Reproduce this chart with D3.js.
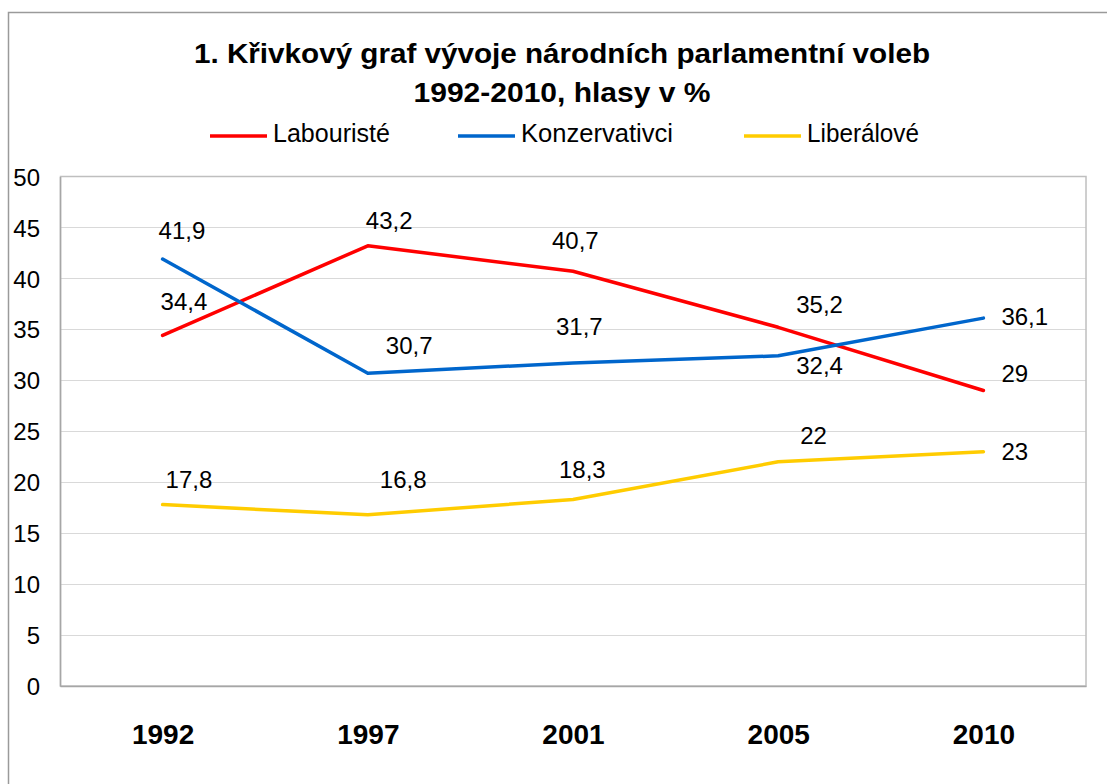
<!DOCTYPE html>
<html>
<head>
<meta charset="utf-8">
<script src="https://cdn.jsdelivr.net/npm/d3@7"></script>
<style>
  html, body { margin: 0; padding: 0; background: #fff; }
  svg { display: block; font-family: "Liberation Sans", Arial, sans-serif; }
</style>
</head>
<body>
<svg id="chart" width="1107" height="784"></svg>
<script>
// ---- data ----
const years = ["1992", "1997", "2001", "2005", "2010"];
const seriesNames = ["Labouristé", "Konzervativci", "Liberálové"];
const labouriste = [34.4, 43.2, 40.7, 35.2, 29];
const konzervativci = [41.9, 30.7, 31.7, 32.4, 36.1];
const liberalove = [17.8, 16.8, 18.3, 22, 23];
const yTicks = [0, 5, 10, 15, 20, 25, 30, 35, 40, 45, 50];
const titleLines = ["1. Křivkový graf vývoje národních parlamentní voleb", "1992-2010, hlasy v %"];

// ---- styling / layout (not data) ----
const colors = ["#FF0000", "#0066CC", "#FFCC00"];
// data-label nudges [dx (text start), dy (baseline)] relative to each point
const labelNudge = [
  [[-2, -25], [-2, -17], [-21, -22], [18, -14], [18, -8]],
  [[-4, -20], [18, -19], [-17, -28], [18, 18], [18, 7]],
  [[3, -17], [12, -27], [-14, -22], [22, -18], [18, 8]]
];

const seriesValues = [labouriste, konzervativci, liberalove];
const svg = d3.select("#chart");

const plot = { left: 60, right: 1086, top: 176.5, bottom: 686 };

const x = d3.scalePoint().domain(years).range([plot.left, plot.right]).padding(0.5);
const y = d3.scaleLinear().domain([0, 50]).range([plot.bottom, plot.top]);

// outer chart border (left + top visible)
svg.append("rect")
  .attr("x", 8.5).attr("y", 12.5)
  .attr("width", 1120).attr("height", 800)
  .attr("fill", "none").attr("stroke", "#9a9a9a").attr("stroke-width", 1.5);

// title
titleLines.forEach((t, i) => {
  svg.append("text")
    .attr("x", 562).attr("y", i === 0 ? 63 : 102)
    .attr("text-anchor", "middle")
    .attr("font-size", 28).attr("font-weight", "bold")
    .attr("textLength", i === 0 ? 736 : 297)
    .attr("lengthAdjust", "spacingAndGlyphs")
    .attr("fill", "#000")
    .text(t);
});

// legend
const legendX = [210, 458, 744];
const legendTextLen = [117, 152, 112];
seriesNames.forEach((n, i) => {
  const g = svg.append("g").attr("transform", `translate(${legendX[i]},136)`);
  g.append("line").attr("x1", 0).attr("x2", 57).attr("y1", 0).attr("y2", 0)
    .attr("stroke", colors[i]).attr("stroke-width", 3.5);
  g.append("text").attr("x", 63).attr("y", 6)
    .attr("font-size", 25)
    .attr("textLength", legendTextLen[i]).attr("lengthAdjust", "spacingAndGlyphs")
    .text(n);
});

// gridlines
svg.append("g")
  .selectAll("line")
  .data(yTicks.filter(d => d > 0 && d < 50))
  .join("line")
  .attr("x1", plot.left).attr("x2", plot.right)
  .attr("y1", d => Math.round(y(d)) + 0.5).attr("y2", d => Math.round(y(d)) + 0.5)
  .attr("stroke", "#d9d9d9").attr("stroke-width", 1);

// plot border
svg.append("rect")
  .attr("x", plot.left + 0.5).attr("y", plot.top)
  .attr("width", plot.right - plot.left - 0.5).attr("height", plot.bottom - plot.top)
  .attr("fill", "none").attr("stroke", "#bfbfbf").attr("stroke-width", 1.5);

// y axis
const yAxis = svg.append("g")
  .attr("transform", `translate(${plot.left},0)`)
  .call(d3.axisLeft(y).tickValues(yTicks).tickSize(0).tickPadding(20).tickFormat(d3.format("d")));
yAxis.select(".domain").attr("stroke", "#a6a6a6").attr("stroke-width", 1.5);
yAxis.selectAll("text")
  .attr("font-size", 24).attr("font-family", "Liberation Sans, Arial, sans-serif")
  .attr("fill", "#000").attr("dy", "0.36em");

// x axis
const xAxis = svg.append("g")
  .attr("transform", `translate(0,${plot.bottom})`)
  .call(d3.axisBottom(x).tickSize(0).tickPadding(0));
xAxis.select(".domain").attr("stroke", "#a6a6a6").attr("stroke-width", 1.5);
xAxis.selectAll("text")
  .attr("font-size", 28).attr("font-weight", "bold")
  .attr("font-family", "Liberation Sans, Arial, sans-serif")
  .attr("fill", "#000").attr("y", 58).attr("dy", 0);

// lines
const line = d3.line().x((d, i) => x(years[i])).y(d => y(d));
seriesValues.forEach((vals, s) => {
  svg.append("path")
    .datum(vals)
    .attr("d", line)
    .attr("fill", "none")
    .attr("stroke", colors[s])
    .attr("stroke-width", 3.5)
    .attr("stroke-linecap", "round")
    .attr("stroke-linejoin", "round");
});

// data labels
const fmt = v => String(v).replace(".", ",");
seriesValues.forEach((vals, s) => {
  svg.append("g")
    .selectAll("text")
    .data(vals)
    .join("text")
    .attr("x", (d, i) => x(years[i]) + labelNudge[s][i][0])
    .attr("y", (d, i) => y(d) + labelNudge[s][i][1])
    .attr("font-size", 24)
    .attr("fill", "#000")
    .text(d => fmt(d));
});
</script>
</body>
</html>
